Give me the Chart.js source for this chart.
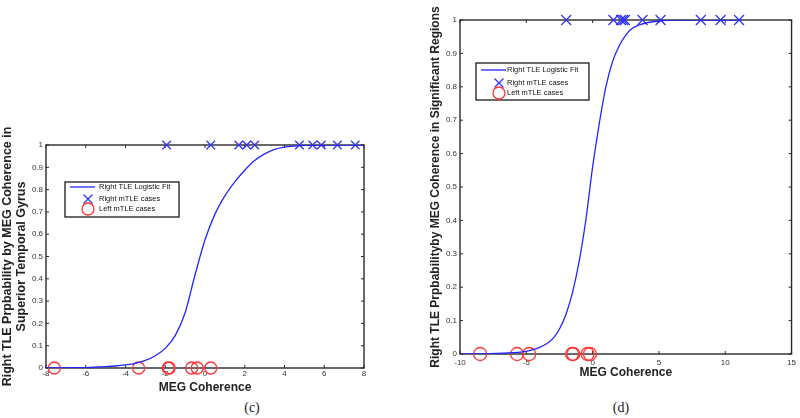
<!DOCTYPE html>
<html>
<head>
<meta charset="utf-8">
<script src="https://cdn.jsdelivr.net/npm/chart.js@4.4.0/dist/chart.umd.min.js"></script>
<style>
  body { margin: 0; background: #fff; }
  #wrap { position: relative; width: 800px; height: 418px; overflow: hidden; background: #fff; }
  .box { position: absolute; }
  .cap { position: absolute; font: 14px "Liberation Serif", serif; color: #222; transform: translate(-50%, -50%); }
</style>
</head>
<body>
<div id="wrap">
  <div class="box" style="left:0;top:120px;width:390px;height:280px"><canvas id="chartC"></canvas></div>
  <div class="box" style="left:410px;top:0;width:390px;height:390px"><canvas id="chartD"></canvas></div>
  <div class="cap" style="left:252px;top:408px">(c)</div>
  <div class="cap" style="left:621px;top:408px">(d)</div>
</div>
<script>
// (c) superior temporal gyrus
const fitXC = [-8, -7, -6, -5, -4.5, -4, -3.5, -3, -2.5, -2, -1.5, -1, -0.5, 0, 0.5, 1, 1.5, 2, 2.5, 3, 3.5, 4, 4.5, 5, 6, 7, 8];
const fitYC = [0.0005, 0.001, 0.002, 0.006, 0.009, 0.014, 0.021, 0.034, 0.055, 0.088, 0.145, 0.248, 0.418, 0.575, 0.69, 0.772, 0.835, 0.887, 0.93, 0.96, 0.98, 0.99, 0.995, 0.998, 1, 1, 1];
const rightC = [-1.93, 0.29, 1.7, 2.1, 2.5, 4.75, 5.42, 5.85, 6.66, 7.56];
const leftC = [-7.58, -3.34, -1.85, -1.8, -0.67, -0.39, 0.29];

// (d) significant regions
const fitXD = [-10, -8, -6, -5, -4.5, -4, -3.5, -3, -2.5, -2, -1.5, -1, -0.5, 0, 0.5, 1, 1.5, 2, 2.5, 3, 3.5, 4, 5, 6, 8, 11];
const fitYD = [0, 0.001, 0.004, 0.008, 0.013, 0.02, 0.03, 0.046, 0.075, 0.12, 0.187, 0.28, 0.405, 0.56, 0.69, 0.8, 0.875, 0.922, 0.955, 0.975, 0.985, 0.991, 0.997, 1, 1, 1];
const rightD = [-1.99, 1.57, 2.14, 2.3, 2.44, 3.76, 5.12, 8.16, 9.65, 11.04];
const leftD = [-8.48, -5.7, -4.78, -1.55, -1.45, -0.38, -0.2];

const seriesNames = ['Right TLE Logistic Fit', 'Right mTLE cases', 'Left mTLE cases'];
const blue = '#2424ff';
const red = '#ff3434';
const sans = '"Liberation Sans", Arial, sans-serif';

// box round the plot with inward ticks, like matlab
const matlabFrame = {
  id: 'matlabFrame',
  beforeDatasetsDraw(chart) {
    const { ctx, chartArea: a, scales: { x, y } } = chart;
    ctx.save();
    ctx.strokeStyle = '#2a2a2a';
    ctx.lineWidth = 1.4;
    ctx.strokeRect(a.left, a.top, a.right - a.left, a.bottom - a.top);
    ctx.lineWidth = 1;
    ctx.beginPath();
    x.ticks.forEach(t => {
      const px = x.getPixelForValue(t.value);
      ctx.moveTo(px, a.bottom); ctx.lineTo(px, a.bottom - 3);
      ctx.moveTo(px, a.top); ctx.lineTo(px, a.top + 3);
    });
    y.ticks.forEach(t => {
      const py = y.getPixelForValue(t.value);
      ctx.moveTo(a.left, py); ctx.lineTo(a.left + 3, py);
      ctx.moveTo(a.right, py); ctx.lineTo(a.right - 3, py);
    });
    ctx.stroke();
    ctx.restore();
  }
};

// legend box inside the plot
const legendBox = {
  id: 'legendBox',
  afterDraw(chart, args, o) {
    const { ctx, chartArea: a } = chart;
    const x0 = a.left + o.dx, y0 = a.top + o.dy;
    ctx.save();
    ctx.fillStyle = '#fff';
    ctx.fillRect(x0, y0, o.w, o.h);
    ctx.strokeStyle = '#1a1a1a';
    ctx.lineWidth = 1.3;
    ctx.strokeRect(x0, y0, o.w, o.h);
    ctx.font = '7.5px ' + sans;
    ctx.textBaseline = 'middle';
    const mx = x0 + 23;
    chart.data.datasets.forEach((ds, i) => {
      const yy = y0 + o.rows[i];
      ctx.strokeStyle = ds.borderColor;
      ctx.lineWidth = 1.3;
      ctx.beginPath();
      if (i === 0) {
        ctx.moveTo(x0 + 5, yy); ctx.lineTo(x0 + 30, yy);
      } else if (ds.pointStyle === 'crossRot') {
        const r = 4.5;
        ctx.moveTo(mx - r, yy - r); ctx.lineTo(mx + r, yy + r);
        ctx.moveTo(mx - r, yy + r); ctx.lineTo(mx + r, yy - r);
      } else {
        ctx.arc(mx, yy, 6, 0, Math.PI * 2);
      }
      ctx.stroke();
      ctx.fillStyle = '#111';
      ctx.fillText(ds.label, x0 + o.textX, yy);
    });
    ctx.restore();
  }
};

function makeChart(id, fitX, fitY, right, left, xr, yTitle, lay) {
  return new Chart(document.getElementById(id), {
    type: 'scatter',
    data: {
      datasets: [
        {
          label: seriesNames[0],
          data: fitX.map((x, i) => ({ x: x, y: fitY[i] })),
          showLine: true,
          borderColor: blue,
          borderWidth: 1.3,
          pointRadius: 0,
          cubicInterpolationMode: 'monotone'
        },
        {
          label: seriesNames[1],
          data: right.map(x => ({ x: x, y: 1 })),
          pointStyle: 'crossRot',
          pointRadius: lay.cross,
          borderColor: '#3434f0',
          pointBorderWidth: 1.3,
          clip: false
        },
        {
          label: seriesNames[2],
          data: left.map(x => ({ x: x, y: 0 })),
          pointStyle: 'circle',
          pointRadius: lay.circle,
          borderColor: red,
          backgroundColor: 'rgba(0,0,0,0)',
          pointBorderWidth: 1.3,
          clip: false
        }
      ]
    },
    options: {
      responsive: true,
      maintainAspectRatio: false,
      animation: false,
      events: [],
      layout: { padding: { top: lay.top, right: lay.right, left: 0, bottom: 0 } },
      plugins: {
        legend: { display: false },
        tooltip: { enabled: false },
        legendBox: lay.legend
      },
      scales: {
        x: {
          min: xr[0], max: xr[1],
          grid: { display: false, drawTicks: false },
          border: { display: false },
          ticks: { stepSize: xr[2], padding: lay.xPad, color: '#333', font: { size: 8, family: sans } },
          title: { display: true, text: 'MEG Coherence', color: '#222', font: { size: 12, weight: 'bold', family: sans }, padding: { top: 0, bottom: lay.xTitlePad } },
          afterFit(s) { s.height = lay.xH; }
        },
        y: {
          min: 0, max: 1,
          grid: { display: false, drawTicks: false },
          border: { display: false },
          ticks: {
            stepSize: 0.1, padding: 3, color: '#333', font: { size: 8, family: sans },
            callback: v => String(Number(v.toFixed(1)))
          },
          title: { display: true, text: yTitle, color: '#222', font: { size: lay.yFont, weight: 'bold', family: sans, lineHeight: 1.15 }, padding: { top: lay.yTitlePad, bottom: 0 } },
          afterFit(s) { s.width = lay.yW; }
        }
      }
    },
    plugins: [matlabFrame, legendBox]
  });
}

makeChart('chartC', fitXC, fitYC, rightC, leftC, [-8, 8, 2],
  ['Right TLE Prpbability by MEG Coherence in', 'Superior Temporal Gyrus'],
  { top: 25, right: 26, xH: 32, yW: 46, xPad: 1, xTitlePad: 5, yTitlePad: 0, yFont: 12.5, cross: 6, circle: 6,
    legend: { dx: 19, dy: 37, w: 114, h: 35, rows: [5, 17, 27], textX: 34 } });

makeChart('chartD', fitXD, fitYD, rightD, leftD, [-10, 15, 5],
  'Right TLE Prpbabilityby MEG Coherence in Significant Regions',
  { top: 20, right: 5, xH: 36, yW: 50, xPad: 4, xTitlePad: 10, yTitlePad: 19, yFont: 12, cross: 7, circle: 6.5,
    legend: { dx: 16, dy: 43, w: 113, h: 37, rows: [7, 20, 30], textX: 31 } });
</script>
</body>
</html>
